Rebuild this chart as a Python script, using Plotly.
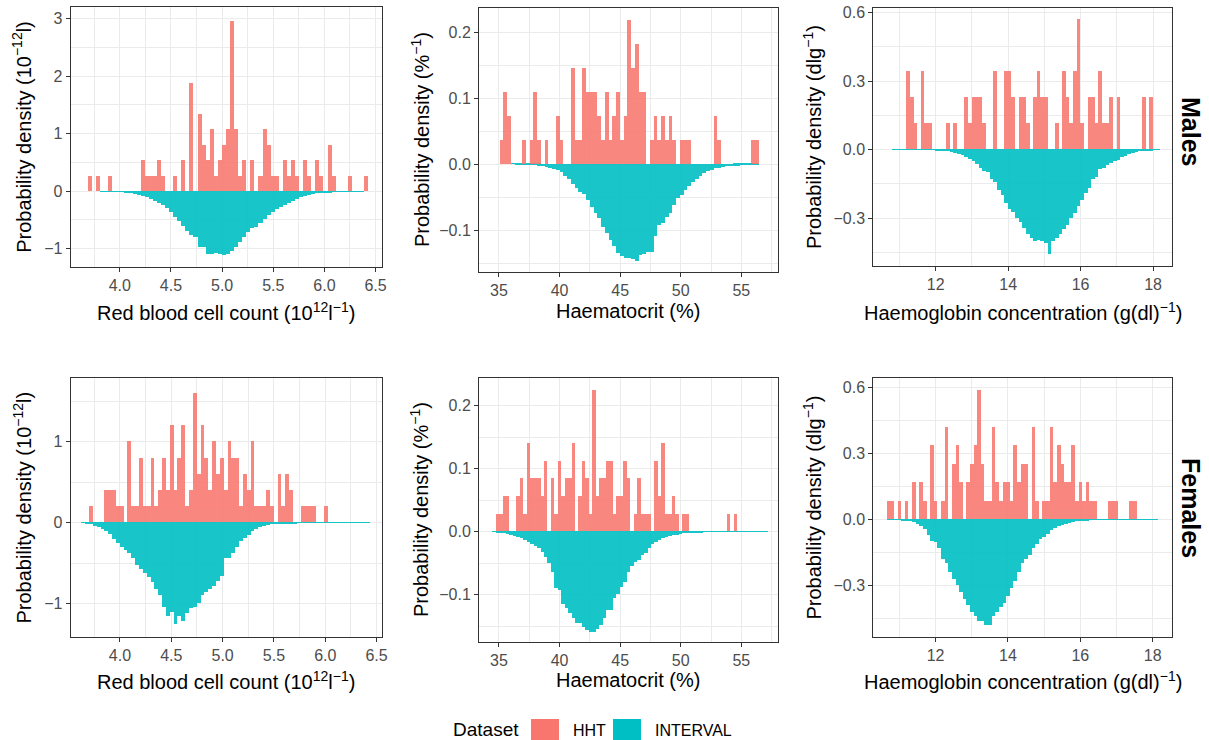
import numpy as np
import plotly.graph_objects as go

W, H = 1209, 740

# ---------------- data (probability densities per bin) ----------------
# Males - red blood cell count
rbc_m_start, rbc_m_width = 3.685, 0.0397
rbc_m_hht = [0.27, 0, 0.27, 0, 0, 0.27, 0, 0, 0, 0, 0, 0, 0, 0.54, 0.27, 0.27, 0.27, 0.54, 0.27, 0,
             0, 0.27, 0, 0.54, 0, 1.89, 0, 1.35, 0.81, 0.54, 1.08, 0.27, 0.54, 0.81, 1.08, 2.97, 1.08,
             0.27, 0.54, 0, 0.54, 0, 0.27, 1.08, 0.81, 0.27, 0.27, 0, 0.54, 0.27, 0.54, 0.27, 0, 0.54,
             0.27, 0, 0.54, 0.27, 0, 0.81, 0.27, 0, 0, 0, 0.27, 0, 0, 0, 0.27]
rbc_m_interval = [0, 0, 0, -0.001, -0.002, -0.004, -0.007, -0.01, -0.015, -0.025, -0.035, -0.05, -0.065,
                  -0.085, -0.11, -0.13, -0.17, -0.2, -0.24, -0.3, -0.37, -0.45, -0.52, -0.6, -0.7, -0.77,
                  -0.8, -0.97, -0.98, -1.1, -1.09, -1.08, -1.09, -1.12, -1.1, -1.05, -0.98, -0.88, -0.8,
                  -0.72, -0.65, -0.62, -0.55, -0.48, -0.42, -0.36, -0.31, -0.28, -0.24, -0.2, -0.17, -0.14,
                  -0.11, -0.09, -0.07, -0.055, -0.04, -0.03, -0.022, -0.016, -0.011, -0.008, -0.005, -0.004,
                  -0.003, -0.002, -0.001, -0.001, 0]

# Males - haematocrit
hct_m_start, hct_m_width = 35.05, 0.31
hct_m_hht = [0.036, 0.109, 0.073, 0, 0, 0, 0.036, 0, 0.036, 0.109, 0.036, 0, 0.036, 0, 0, 0.073, 0.036, 0, 0,
             0.145, 0.036, 0.036, 0.145, 0.109, 0.109, 0.109, 0.073, 0.036, 0.109, 0.036, 0.073, 0.109, 0.036,
             0.073, 0.218, 0.145, 0.181, 0.109, 0.109, 0,
             0.036, 0.073, 0.036, 0.073, 0.036, 0.073, 0.036, 0,
             0.036, 0.036, 0.036, 0, 0, 0, 0, 0, 0, 0.073, 0.036, 0, 0, 0, 0, 0, 0, 0, 0, 0.036, 0.036]
hct_m_interval = [0, 0, 0, -0.0003, -0.0004, -0.0005, -0.0007, -0.001, -0.001, -0.002, -0.003, -0.004, -0.005,
                  -0.006, -0.008, -0.01, -0.013, -0.018, -0.023, -0.03, -0.037, -0.042, -0.045, -0.055, -0.065,
                  -0.075, -0.082, -0.095, -0.105, -0.115, -0.125, -0.135, -0.14, -0.142, -0.143, -0.144, -0.147,
                  -0.138, -0.136, -0.134, -0.133, -0.11, -0.093, -0.09, -0.08, -0.074, -0.062, -0.052, -0.047,
                  -0.04, -0.034, -0.028, -0.023, -0.019, -0.014, -0.011, -0.009, -0.007, -0.006, -0.005, -0.004,
                  -0.004, -0.003, -0.003, -0.002, -0.002, -0.001, -0.001, -0.0005]

# Males - haemoglobin
hb_m_start, hb_m_width = 10.8, 0.1
hb_m_hht = [0, 0, 0, 0, 0.342, 0.228, 0.114, 0, 0.342, 0.114, 0.114, 0, 0, 0, 0, 0.114, 0, 0.114, 0, 0,
            0.228, 0.114, 0.228, 0.228, 0.228, 0.114, 0, 0, 0.342, 0, 0, 0.342, 0.342, 0.228, 0, 0.228, 0.228,
            0.114, 0, 0.228, 0.342, 0.228, 0.228, 0, 0, 0.114, 0, 0.342, 0.228, 0.114, 0.342, 0.57, 0.114, 0,
            0.228, 0.228, 0.114, 0.342, 0.114, 0.114, 0.228, 0, 0.228, 0, 0, 0, 0, 0, 0, 0.228, 0, 0.228, 0, 0]
hb_m_interval = [-0.0003, -0.0005, -0.0005, -0.0007, -0.0008, -0.001, -0.001, -0.0012, -0.0015, -0.0018, -0.002,
                 -0.0025, -0.003, -0.004, -0.006, -0.009, -0.012, -0.016, -0.02, -0.026, -0.034, -0.042, -0.052,
                 -0.065, -0.08, -0.095, -0.1, -0.13, -0.145, -0.18, -0.2, -0.235, -0.26, -0.275, -0.3, -0.32,
                 -0.345, -0.37, -0.39, -0.4, -0.398, -0.402, -0.41, -0.46, -0.4, -0.39, -0.37, -0.35, -0.33,
                 -0.3, -0.28, -0.25, -0.22, -0.19, -0.17, -0.13, -0.12, -0.085, -0.08, -0.07, -0.06, -0.05,
                 -0.045, -0.035, -0.028, -0.021, -0.017, -0.013, -0.009, -0.007, -0.005, -0.003, -0.002, -0.001]

# Females - red blood cell count
rbc_f_start, rbc_f_width = 3.62, 0.0375
rbc_f_hht = [0, 0, 0.2, 0, 0, 0, 0.4, 0.4, 0.4, 0.2, 0.2, 0, 1.0, 0.2, 0.2, 0.8, 0.2, 0.2, 0.8, 0.2, 0.4,
             0.8, 0.4, 1.2, 0.4, 0.8, 1.2, 0.2, 0.4, 1.6, 0.6, 1.2, 0.8, 0.4, 1.0, 0.6, 0.8, 0.4, 1.0, 0.8,
             0.8, 0.2, 0.6, 0.4, 1.0, 0.2, 0.2, 0.2, 0.4, 0.2, 0, 0.6, 0.2, 0.6, 0.4, 0, 0, 0.2, 0.2, 0.2,
             0.2, 0, 0, 0.2, 0, 0, 0, 0, 0, 0, 0, 0, 0, 0, 0]
rbc_f_interval = [-0.005, -0.015, -0.025, -0.04, -0.055, -0.08, -0.11, -0.14, -0.2, -0.25, -0.3, -0.34, -0.38,
                  -0.44, -0.52, -0.57, -0.63, -0.68, -0.74, -0.82, -0.89, -1.05, -1.15, -1.1, -1.26, -1.16,
                  -1.22, -1.12, -1.06, -1.05, -1.0, -0.9, -0.86, -0.82, -0.78, -0.72, -0.66, -0.44, -0.44,
                  -0.38, -0.3, -0.23, -0.19, -0.15, -0.11, -0.08, -0.06, -0.045, -0.035, -0.025, -0.018,
                  -0.014, -0.012, -0.01, -0.02, -0.008, -0.006, -0.005, -0.004, -0.003, -0.003, -0.002,
                  -0.002, -0.002, -0.001, -0.001, -0.001, -0.001, -0.001, -0.0005, -0.0005, -0.0005, -0.0005,
                  -0.0005, -0.0005]

# Females - haematocrit
hct_f_start, hct_f_width = 34.435, 0.285
hct_f_hht = [0, 0.028, 0.028, 0.056, 0.056, 0, 0, 0.056, 0.084, 0.028, 0.14, 0.084, 0.084, 0.084, 0.056,
             0.112, 0, 0.084, 0.028, 0.112, 0.056, 0.084, 0.084, 0.14, 0, 0.056, 0.112, 0.084, 0.028, 0.224,
             0.056, 0.084, 0.084, 0.112, 0.112, 0.028, 0.056, 0.056, 0.112, 0.084, 0, 0.028, 0.084, 0.028,
             0.028, 0.028, 0, 0.112, 0.056, 0.14, 0.028, 0.028, 0.056, 0.028, 0, 0.028, 0.028,
             0, 0, 0, 0, 0, 0, 0, 0, 0, 0, 0, 0.028, 0, 0.028, 0, 0, 0, 0, 0, 0, 0, 0, 0]
hct_f_interval = [-0.0005, -0.001, -0.002, -0.003, -0.004, -0.006, -0.007, -0.009, -0.011, -0.014, -0.017,
                  -0.02, -0.023, -0.027, -0.033, -0.04, -0.05, -0.065, -0.09, -0.093, -0.115, -0.122, -0.13,
                  -0.138, -0.146, -0.146, -0.152, -0.156, -0.159, -0.16, -0.155, -0.148, -0.138, -0.125,
                  -0.125, -0.105, -0.1, -0.088, -0.08, -0.065, -0.055, -0.048, -0.045, -0.038, -0.035, -0.026,
                  -0.02, -0.017, -0.013, -0.011, -0.009, -0.007, -0.006, -0.005, -0.004, -0.003, -0.003,
                  -0.002, -0.002, -0.0015, -0.001, -0.0005, -0.0005, -0.0005, -0.0005, -0.0005, -0.0005,
                  -0.0005, -0.0005, -0.0005, -0.0005, -0.0005, -0.0005, -0.0005, -0.0005, -0.0005, -0.0005,
                  -0.0005, -0.0005, -0.0005]

# Females - haemoglobin
hb_f_start, hb_f_width = 10.66, 0.1
hb_f_hht = [0.084, 0.084, 0, 0.084, 0, 0.084, 0, 0.168, 0, 0.168, 0.084, 0, 0.336, 0.084, 0, 0.084, 0.42, 0,
            0.252, 0.336, 0.168, 0, 0.168, 0.252, 0.336, 0.588, 0.252, 0.084, 0.084, 0.42, 0.168, 0.084,
            0.168, 0.168, 0.084, 0.336, 0.168, 0.252, 0.252, 0, 0.42, 0.084, 0, 0.084, 0.084, 0.42, 0.168,
            0.336, 0.252, 0.168, 0.168, 0.336, 0.084, 0.168, 0.084, 0.168, 0.084, 0.084, 0, 0, 0, 0.084,
            0.084, 0.084, 0, 0, 0, 0.084, 0.084, 0, 0, 0, 0, 0, 0]
hb_f_interval = [-0.001, -0.002, -0.003, -0.003, -0.004, -0.005, -0.007, -0.012, -0.02, -0.03, -0.045, -0.07,
                 -0.1, -0.105, -0.13, -0.18, -0.2, -0.24, -0.27, -0.3, -0.33, -0.36, -0.39, -0.42, -0.44,
                 -0.46, -0.46, -0.48, -0.48, -0.44, -0.42, -0.4, -0.38, -0.35, -0.31, -0.28, -0.24, -0.2,
                 -0.18, -0.16, -0.13, -0.11, -0.09, -0.08, -0.065, -0.05, -0.04, -0.03, -0.025, -0.02,
                 -0.015, -0.011, -0.009, -0.007, -0.005, -0.004, -0.003, -0.002, -0.001, -0.001, -0.001,
                 -0.001, -0.001, -0.001, -0.001, -0.001, -0.001, -0.001, -0.001, -0.001, -0.001, -0.001,
                 -0.001, -0.001, -0.001]

series_names = ["HHT", "INTERVAL"]
row_labels = ["Males", "Females"]

# ---------------- styling / layout ----------------
HHT_COLOR = "#F8766D"
INT_COLOR = "#00BFC4"
FONT = "Liberation Sans, Arial, Helvetica, sans-serif"
GRID = "#EBEBEB"

rbc_x = "Red blood cell count (10<sup>12</sup>l<sup>−1</sup>)"
hct_x = "Haematocrit (%)"
hb_x = "Haemoglobin concentration (g(dl)<sup>−1</sup>)"
rbc_y = "Probability density (10<sup>−12</sup>l)"
hct_y = "Probability density (%<sup>−1</sup>)"
hb_y = "Probability density (dlg<sup>−1</sup>)"

panels = [
    dict(start=rbc_m_start, w=rbc_m_width, hht=rbc_m_hht, itv=rbc_m_interval,
         xd=0.5, xf=".1f", yd=1, yf="d", box=(70.7, 381.7, 7, 266.7),
         xr=[3.52, 6.56], yr=[-1.316, 3.206], xt=rbc_x, yt=rbc_y),
    dict(start=hct_m_start, w=hct_m_width, hht=hct_m_hht, itv=hct_m_interval,
         xd=5, xf="d", yd=0.1, yf=".1f", box=(479, 777.7, 8.3, 271.7),
         xr=[33.35, 58.0], yr=[-0.163, 0.236], xt=hct_x, yt=hct_y),
    dict(start=hb_m_start, w=hb_m_width, hht=hb_m_hht, itv=hb_m_interval,
         xd=2, xf="d", yd=0.3, yf=".1f", box=(873.3, 1172.3, 8.3, 265.7),
         xr=[10.28, 18.53], yr=[-0.508, 0.619], xt=hb_x, yt=hb_y),
    dict(start=rbc_f_start, w=rbc_f_width, hht=rbc_f_hht, itv=rbc_f_interval,
         xd=0.5, xf=".1f", yd=1, yf="d", box=(70.7, 381.7, 378.3, 636.7),
         xr=[3.52, 6.55], yr=[-1.407, 1.782], xt=rbc_x, yt=rbc_y),
    dict(start=hct_f_start, w=hct_f_width, hht=hct_f_hht, itv=hct_f_interval,
         xd=5, xf="d", yd=0.1, yf=".1f", box=(479, 777.7, 378.3, 641.7),
         xr=[33.35, 58.0], yr=[-0.1746, 0.2434], xt=hct_x, yt=hct_y),
    dict(start=hb_f_start, w=hb_f_width, hht=hb_f_hht, itv=hb_f_interval,
         xd=2, xf="d", yd=0.3, yf=".1f", box=(873.3, 1172.3, 378.3, 636.7),
         xr=[10.28, 18.54], yr=[-0.532, 0.642], xt=hb_x, yt=hb_y),
]

fig = go.Figure()
layout = dict(
    width=W, height=H, margin=dict(l=0, r=0, t=0, b=0),
    paper_bgcolor="white", plot_bgcolor="white",
    showlegend=False, bargap=0, barmode="overlay",
    font=dict(family=FONT, color="black", size=16),
    annotations=[], shapes=[],
)

def px_x(p):
    return p / W

def px_y(p):
    return 1 - p / H

for k, p in enumerate(panels, start=1):
    xa = "x" if k == 1 else f"x{k}"
    ya = "y" if k == 1 else f"y{k}"
    for vals, color, op, name in ((p["itv"], INT_COLOR, 0.9, series_names[1]),
                                  (p["hht"], HHT_COLOR, 0.87, series_names[0])):
        centers = p["start"] + p["w"] * (np.arange(len(vals)) + 0.5)
        fig.add_trace(go.Bar(x=centers, y=vals, width=p["w"], name=name,
                             marker=dict(color=color, line=dict(width=0)),
                             opacity=op, xaxis=xa, yaxis=ya, showlegend=False,
                             hoverinfo="skip"))
    x0, x1, y0, y1 = p["box"]
    common = dict(showline=True, mirror=True, linecolor="#333333", linewidth=1,
                  ticks="outside", ticklen=4, tickcolor="#333333", tickwidth=1,
                  showgrid=True, gridcolor=GRID, gridwidth=1.2, zeroline=False,
                  tickfont=dict(size=16, color="#4D4D4D", family=FONT),
                  automargin=False, layer="below traces")
    layout["xaxis" if k == 1 else f"xaxis{k}"] = dict(
        common, domain=[px_x(x0), px_x(x1)], anchor=ya, range=p["xr"],
        tick0=0, dtick=p["xd"], tickformat=p["xf"],
        minor=dict(showgrid=True, gridcolor=GRID, gridwidth=0.6, tick0=0, dtick=p["xd"] / 2, ticks=""))
    layout["yaxis" if k == 1 else f"yaxis{k}"] = dict(
        common, domain=[px_y(y1), px_y(y0)], anchor=xa, range=p["yr"],
        tick0=0, dtick=p["yd"], tickformat=p["yf"],
        minor=dict(showgrid=True, gridcolor=GRID, gridwidth=0.6, tick0=0, dtick=p["yd"] / 2, ticks=""))
    row = 0 if k <= 3 else 1
    xt_y = 311 if row == 0 else 680
    layout["annotations"].append(dict(
        text=p["xt"], xref="paper", yref="paper", x=px_x((x0 + x1) / 2), y=px_y(xt_y),
        xanchor="center", yanchor="middle", showarrow=False, font=dict(size=20, family=FONT)))
    yt_x = {0: 22, 1: 420, 2: 812}[(k - 1) % 3]
    layout["annotations"].append(dict(
        text=p["yt"], xref="paper", yref="paper", x=px_x(yt_x), y=px_y((y0 + y1) / 2),
        xanchor="center", yanchor="middle", showarrow=False, textangle=-90,
        font=dict(size=20, family=FONT)))

for label, yc in zip(row_labels, (131, 508)):
    layout["annotations"].append(dict(
        text=f"<b>{label}</b>", xref="paper", yref="paper", x=px_x(1191), y=px_y(yc),
        xanchor="center", yanchor="middle", showarrow=False, textangle=90,
        font=dict(size=25, family=FONT, color="black")))

layout["annotations"].append(dict(text="Dataset", xref="paper", yref="paper", x=px_x(451), y=px_y(729),
                                  xanchor="left", yanchor="middle", showarrow=False,
                                  font=dict(size=19, family=FONT)))
for name, color, sx, tx in ((series_names[0], HHT_COLOR, 531, 571), (series_names[1], INT_COLOR, 613, 653)):
    layout["shapes"].append(dict(type="rect", xref="paper", yref="paper",
                                 x0=px_x(sx), x1=px_x(sx + 28), y0=px_y(748), y1=px_y(719),
                                 fillcolor=color, line=dict(width=0)))
    layout["annotations"].append(dict(text=name, xref="paper", yref="paper", x=px_x(tx), y=px_y(730),
                                      xanchor="left", yanchor="middle", showarrow=False,
                                      font=dict(size=16, family=FONT)))

fig.update_layout(**layout)
fig.write_html("out.html", config={"displayModeBar": False},
               post_script="document.body.style.margin='0px';document.body.style.overflow='hidden';")
